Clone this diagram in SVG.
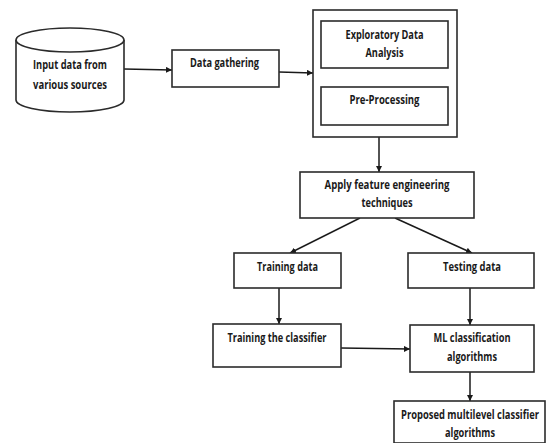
<svg xmlns="http://www.w3.org/2000/svg" width="546" height="443" viewBox="0 0 546 443">
<style>
.box{fill:#fff;stroke:#2b2b2b;stroke-width:1.6}
.ln{fill:none;stroke:#1a1a1a;stroke-width:1.5}
text{font-family:"Open Sans","Liberation Sans",sans-serif;font-size:12px;font-weight:700;fill:#1a1a1a;text-anchor:middle}
</style>
<defs>
<marker id="ah" viewBox="0 0 10 10" refX="10" refY="5" markerWidth="6" markerHeight="6" orient="auto" markerUnits="userSpaceOnUse">
<path d="M0,0 L10,5 L0,10 z" fill="#1a1a1a"/>
</marker>
</defs>
<rect width="546" height="443" fill="#fff"/>
<g id="connectors">
<line class="ln" x1="124" y1="69" x2="172" y2="70" marker-end="url(#ah)"/>
<line class="ln" x1="279" y1="72" x2="313" y2="73" marker-end="url(#ah)"/>
<line class="ln" x1="379" y1="137" x2="379" y2="172" marker-end="url(#ah)"/>
<line class="ln" x1="360" y1="218" x2="290" y2="253" marker-end="url(#ah)"/>
<line class="ln" x1="395" y1="218" x2="472" y2="253" marker-end="url(#ah)"/>
<line class="ln" x1="279" y1="288" x2="279" y2="324" marker-end="url(#ah)"/>
<line class="ln" x1="470" y1="288" x2="470" y2="325" marker-end="url(#ah)"/>
<line class="ln" x1="341" y1="348" x2="410" y2="349" marker-end="url(#ah)"/>
<line class="ln" x1="470" y1="372" x2="470" y2="401" marker-end="url(#ah)"/>
</g>
<g id="input">
<path class="box" d="M16,40 A54,12 0 0 1 124,40 L124,100 A54,12 0 0 1 16,100 Z"/>
<path class="box" d="M16,40 A54,12 0 0 0 124,40" fill="none"/>
<text x="70" y="69" textLength="74" lengthAdjust="spacingAndGlyphs">Input data from</text>
<text x="70" y="89" textLength="74" lengthAdjust="spacingAndGlyphs">various sources</text>
</g>
<g id="gathering">
<rect class="box" x="172" y="50" width="107" height="37"/>
<text x="224.5" y="67" textLength="69" lengthAdjust="spacingAndGlyphs">Data gathering</text>
</g>
<g id="prep-group">
<rect class="box" x="313" y="10" width="144" height="127"/>
</g>
<g id="eda">
<rect class="box" x="321" y="21" width="127" height="47"/>
<text x="384.5" y="39" textLength="78" lengthAdjust="spacingAndGlyphs">Exploratory Data</text>
<text x="384.5" y="57" textLength="38" lengthAdjust="spacingAndGlyphs">Analysis</text>
</g>
<g id="preproc">
<rect class="box" x="321" y="87" width="127" height="38"/>
<text x="384.5" y="104" textLength="70" lengthAdjust="spacingAndGlyphs">Pre-Processing</text>
</g>
<g id="feature">
<rect class="box" x="300" y="172" width="174" height="46"/>
<text x="387" y="189" textLength="125" lengthAdjust="spacingAndGlyphs">Apply feature engineering</text>
<text x="387" y="207" textLength="51" lengthAdjust="spacingAndGlyphs">techniques</text>
</g>
<g id="training">
<rect class="box" x="234" y="253" width="107" height="35"/>
<text x="287.5" y="271" textLength="61" lengthAdjust="spacingAndGlyphs">Training data</text>
</g>
<g id="testing">
<rect class="box" x="408" y="253" width="126" height="35"/>
<text x="472" y="271" textLength="58" lengthAdjust="spacingAndGlyphs">Testing data</text>
</g>
<g id="train-clf">
<rect class="box" x="213" y="324" width="128" height="43"/>
<text x="277" y="342" textLength="99" lengthAdjust="spacingAndGlyphs">Training the classifier</text>
</g>
<g id="ml">
<rect class="box" x="410" y="325" width="124" height="47"/>
<text x="472" y="342" textLength="77" lengthAdjust="spacingAndGlyphs">ML classification</text>
<text x="472" y="361" textLength="50" lengthAdjust="spacingAndGlyphs">algorithms</text>
</g>
<g id="proposed">
<rect class="box" x="394" y="401" width="151" height="42"/>
<text x="470" y="419" textLength="138" lengthAdjust="spacingAndGlyphs">Proposed multilevel classifier</text>
<text x="470" y="437" textLength="50" lengthAdjust="spacingAndGlyphs">algorithms</text>
</g>
</svg>
